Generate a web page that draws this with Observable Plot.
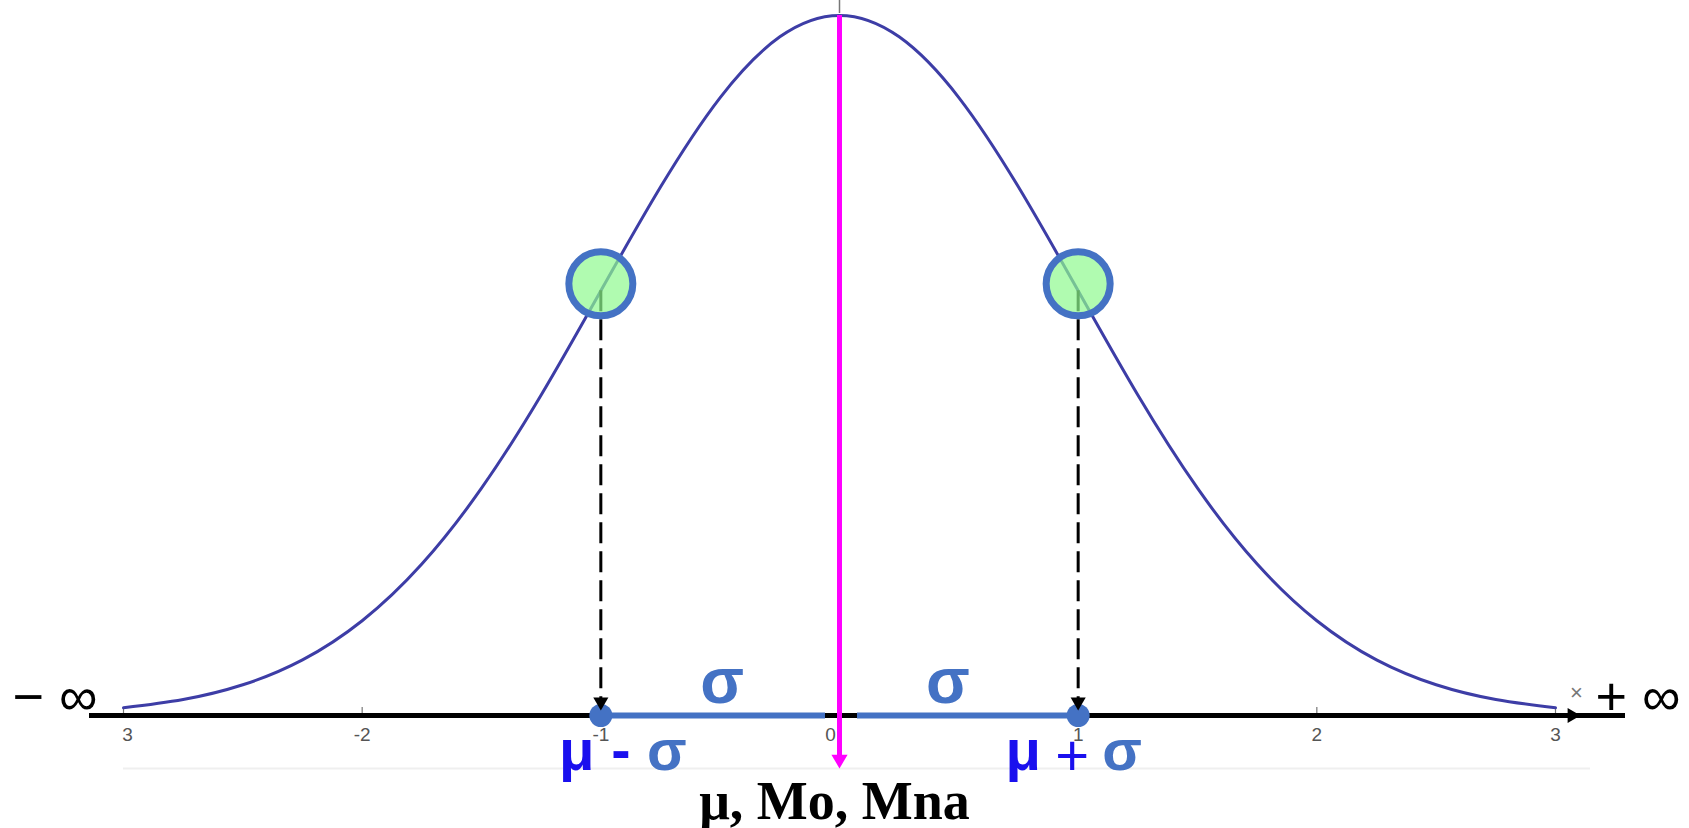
<!DOCTYPE html>
<html>
<head>
<meta charset="utf-8">
<script src="https://cdn.jsdelivr.net/npm/d3@7"></script>
<script src="https://cdn.jsdelivr.net/npm/@observablehq/plot@0.6"></script>
<style>
  html, body { margin: 0; padding: 0; background: #fff; overflow: hidden; }
</style>
</head>
<body>
<div id="chart"></div>
<script>
// Bell curve: density read at quarter steps of z
const zValues = [-3, -2.75, -2.5, -2.25, -2, -1.75, -1.5, -1.25, -1, -0.75, -0.5, -0.25, 0,
                 0.25, 0.5, 0.75, 1, 1.25, 1.5, 1.75, 2, 2.25, 2.5, 2.75, 3];
const density = [0.0044, 0.0091, 0.0175, 0.0317, 0.0540, 0.0863, 0.1295, 0.1826, 0.2420, 0.3011, 0.3521, 0.3867, 0.3989,
                 0.3867, 0.3521, 0.3011, 0.2420, 0.1826, 0.1295, 0.0863, 0.0540, 0.0317, 0.0175, 0.0091, 0.0044];

// Axis ticks and their printed labels
const tickValues = [-3, -2, -1, 0, 1, 2, 3];
const tickLabels = ["3", "-2", "-1", "0", "1", "2", "3"];

// Mean and standard deviation
const mu = 0;
const sigma = 1;
const sigmaPoints = [mu - sigma, mu + sigma];
const sigmaDensity = sigmaPoints.map(z => density[zValues.indexOf(z)]);
const peakDensity = density[zValues.indexOf(mu)];

// Colours
const curveColor = "#3d3da6";
const sigmaBlue = "#4472C4";
const muBlue = "#1a10ee";
const magenta = "#ff00ff";

// Filled arrow heads with the tip at the origin
const triDown = {
  draw(ctx, size) {
    const r = Math.sqrt(size / Math.PI), w = 1.35 * r, h = 2.3 * r;
    ctx.moveTo(0, 0); ctx.lineTo(-w, -h); ctx.lineTo(w, -h); ctx.closePath();
  }
};
const triRight = {
  draw(ctx, size) {
    const r = Math.sqrt(size / Math.PI), w = 1.35 * r, h = 2.3 * r;
    ctx.moveTo(0, 0); ctx.lineTo(-h, -w); ctx.lineTo(-h, w); ctx.closePath();
  }
};

const sans = "'Liberation Sans', Arial, sans-serif";
const serif = "'Liberation Serif', 'Times New Roman', serif";

const ticks = tickValues.map((v, i) => ({v, label: tickLabels[i]}));

const chart = Plot.plot({
  width: 1689,
  height: 828,
  marginLeft: 89,
  marginRight: 64,
  marginTop: 0,
  marginBottom: 0,
  x: {domain: [-3, 3], range: [123, 1555], axis: null},
  y: {domain: [0, 0.4], range: [715, 13], axis: null},
  style: {background: "#fff", overflow: "visible"},
  marks: [
    // faint frame line below the axis
    Plot.ruleY([0], {dy: 53, insetLeft: 34, insetRight: 35, stroke: "#efefef", strokeWidth: 2}),
    // small grey tick marks
    Plot.ruleX(tickValues, {y1: 0, y2: 0, insetTop: -8, stroke: "#777", strokeWidth: 1.2}),
    Plot.ruleX([0], {y1: 0.4, y2: 0.4, insetTop: -13, stroke: "#777", strokeWidth: 1.5}),
    // tick labels
    Plot.text(ticks.filter(d => d.v !== 0 && d.v !== -3), {x: "v", y: () => 0, text: "label", dy: 19, fontSize: 19, fill: "#555", fontFamily: sans}),
    Plot.text(ticks.filter(d => d.v === 0), {x: "v", y: () => 0, text: "label", dy: 19, dx: -9, fontSize: 19, fill: "#555", fontFamily: sans}),
    Plot.text(ticks.filter(d => d.v === -3), {x: "v", y: () => 0, text: "label", dy: 19, dx: 4, fontSize: 19, fill: "#555", fontFamily: sans}),
    // the bell curve
    Plot.line(zValues, {x: zValues, y: density, stroke: curveColor, strokeWidth: 3, curve: "natural"}),
    // x axis line with its arrow
    Plot.ruleY([0], {stroke: "#000", strokeWidth: 5}),
    Plot.dot([3], {x: d => d, y: () => 0, dx: 25, symbol: triRight, r: 5.6, fill: "#000", stroke: null}),
    Plot.text(["×"], {x: () => 3, y: () => 0, dx: 21, dy: -23, fontSize: 22, fill: "#777", fontFamily: sans}),
    // σ segments either side of the mean
    Plot.ruleY([0], {x1: mu - sigma, x2: mu, insetRight: 14, stroke: sigmaBlue, strokeWidth: 6}),
    Plot.ruleY([0], {x1: mu, x2: mu + sigma, insetLeft: 18, stroke: sigmaBlue, strokeWidth: 6}),
    Plot.dot(sigmaPoints, {x: d => d, y: () => 0, r: 11.5, fill: sigmaBlue, stroke: null}),
    // dashed drops from the inflection points
    Plot.ruleX(sigmaPoints, {y1: sigmaDensity, y2: 0, insetBottom: 10, stroke: "#000", strokeWidth: 3, strokeDasharray: "21,8"}),
    Plot.dot(sigmaPoints, {x: d => d, y: () => 0, dy: -5, symbol: triDown, r: 5.6, fill: "#000", stroke: null}),
    // inflection-point markers
    Plot.dot(sigmaPoints, {x: d => d, y: sigmaDensity, dy: -7, r: 32, fill: "#8ff98f", fillOpacity: 0.7, stroke: sigmaBlue, strokeWidth: 7}),
    // mean / mode / median arrow
    Plot.ruleX([mu], {y1: peakDensity, y2: 0, insetBottom: -45, stroke: magenta, strokeWidth: 5}),
    Plot.dot([mu], {x: d => d, y: () => 0, dy: 53, symbol: triDown, r: 6, fill: magenta, stroke: null}),
    // σ labels
    Plot.text(["σ"], {x: () => mu - sigma / 2, y: () => 0, dx: 2, dy: -33, fontSize: 64, fontWeight: "bold", fill: sigmaBlue, fontFamily: sans}),
    Plot.text(["σ"], {x: () => mu + sigma / 2, y: () => 0, dx: -11, dy: -33, fontSize: 64, fontWeight: "bold", fill: sigmaBlue, fontFamily: sans}),
    // μ - σ
    Plot.text(["μ"], {x: () => mu - sigma, y: () => 0, dx: -24, dy: 36, fontSize: 58, fontWeight: "bold", fill: muBlue, fontFamily: sans}),
    Plot.text(["-"], {x: () => mu - sigma, y: () => 0, dx: 20, dy: 36, fontSize: 58, fontWeight: "bold", fill: muBlue, fontFamily: sans}),
    Plot.text(["σ"], {x: () => mu - sigma, y: () => 0, dx: 66, dy: 36, fontSize: 58, fontWeight: "bold", fill: sigmaBlue, fontFamily: sans}),
    // μ + σ
    Plot.text(["μ"], {x: () => mu + sigma, y: () => 0, dx: -55, dy: 36, fontSize: 58, fontWeight: "bold", fill: muBlue, fontFamily: sans}),
    Plot.text(["+"], {x: () => mu + sigma, y: () => 0, dx: -6, dy: 41, fontSize: 58, fill: muBlue, fontFamily: sans}),
    Plot.text(["σ"], {x: () => mu + sigma, y: () => 0, dx: 44, dy: 36, fontSize: 58, fontWeight: "bold", fill: sigmaBlue, fontFamily: sans}),
    // centre label
    Plot.text(["μ, Mo, Mna"], {x: () => mu, y: () => 0, dx: -5, dy: 86, fontSize: 54, fontWeight: "bold", fill: "#000", fontFamily: serif}),
    // infinity ends
    Plot.text(["− ∞"], {frameAnchor: "left", y: () => 0, dx: -77, dy: -18, textAnchor: "start", fontSize: 54, fill: "#000", fontFamily: sans}),
    Plot.text(["+ ∞"], {frameAnchor: "right", y: () => 0, dx: 55, dy: -18, textAnchor: "end", fontSize: 54, fill: "#000", fontFamily: sans})
  ]
});

document.getElementById("chart").append(chart);
</script>
</body>
</html>
